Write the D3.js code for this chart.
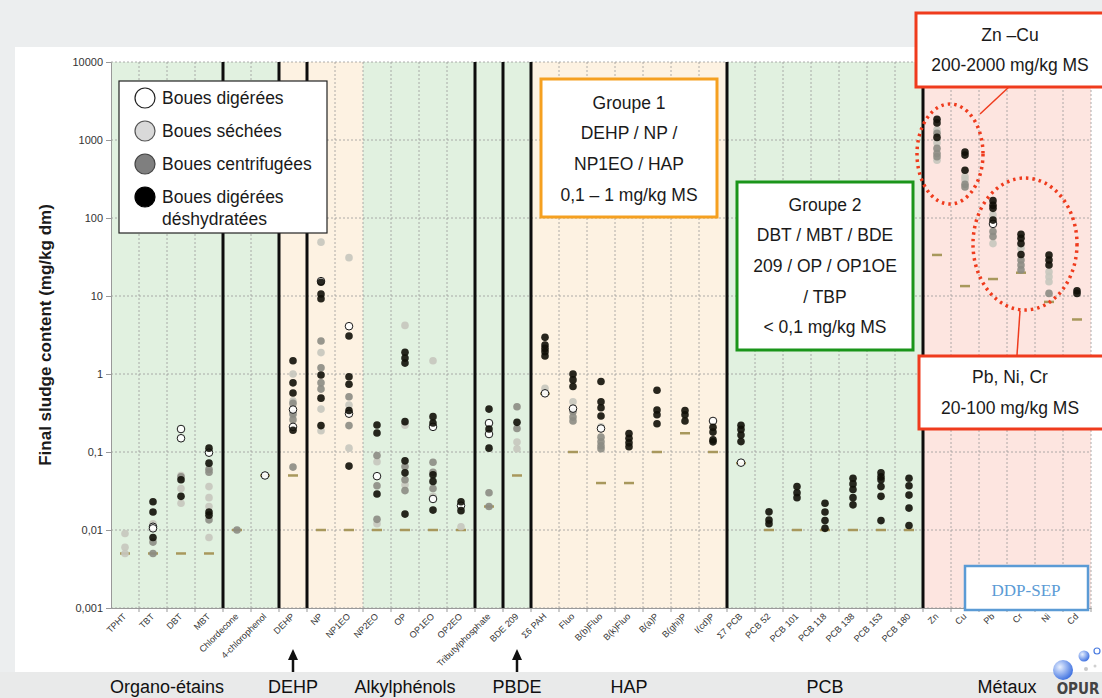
<!DOCTYPE html>
<html lang="fr">
<head>
<meta charset="UTF-8">
<title>Final sludge content</title>
<script src="https://cdn.jsdelivr.net/npm/d3@7"></script>
<style>
  body { margin: 0; background: #eceeef; }
  svg { display: block; font-family: "Liberation Sans", Arial, sans-serif; }
</style>
</head>
<body>
<svg id="chart" width="1102" height="698"></svg>
<script>
// categories (x axis)
var categories = ["TPHT", "TBT", "DBT", "MBT", "Chlordecone", "4-chlorophenol", "DEHP", "NP", "NP1EO", "NP2EO",
  "OP", "OP1EO", "OP2EO", "Tributylphosphate", "BDE 209", "\u03a36 PAH", "Fluo", "B(b)Fluo", "B(k)Fluo", "B(a)P",
  "B(ghi)P", "I(cd)P", "\u03a37 PCB", "PCB 52", "PCB 101", "PCB 118", "PCB 138", "PCB 153", "PCB 180",
  "Zn", "Cu", "Pb", "Cr", "Ni", "Cd"];

// values per category, mg/kg dm (one inner list per category)
var digerees = [[], [0.011, 0.0105], [0.197, 0.15], [0.098], [], [0.05], [0.35, 0.21], [15.5], [4.1, 0.31], [0.049],
  [], [0.21, 0.025], [0.0205], [0.235, 0.17], [], [0.565], [0.36], [0.2], [], [],
  [], [0.25], [0.073], [], [], [], [], [], [],
  [], [], [84], [], [], []];
var sechees = [[0.009, 0.006, 0.005], [0.012], [0.05, 0.034, 0.022], [0.036, 0.026, 0.02, 0.008], [], [], [1.0, 0.45, 0.3], [49, 1.88, 0.355, 0.187], [31, 0.4, 0.112], [0.075, 0.012],
  [4.2, 0.22, 0.038], [1.48, 0.027], [0.011], [], [0.134, 0.11], [0.655], [0.44], [0.21], [], [],
  [], [], [], [], [], [], [], [], [],
  [1350, 920, 550], [340, 310], [110, 47], [41], [20.5, 17.7, 15.2], []];
var centrifugees = [[], [0.007, 0.005], [0.048], [0.06, 0.055, 0.0135], [0.01], [], [0.42, 0.31, 0.26, 0.064], [2.65, 1.2, 0.77, 0.64], [0.51, 0.218], [0.09, 0.037, 0.0137],
  [0.065, 0.044, 0.032], [0.074, 0.055, 0.034], [], [0.03, 0.02], [0.38, 0.2], [], [0.33, 0.28, 0.25], [0.155, 0.135, 0.12, 0.11], [], [],
  [], [], [], [], [], [], [], [], [],
  [1220, 780, 670, 610], [270, 250], [67, 58], [29, 25, 21.6], [10.8], []];
var deshydratees = [[], [0.023, 0.017, 0.008], [0.044, 0.027], [0.112, 0.072, 0.017, 0.0155], [], [], [1.48, 0.77, 0.57, 0.19], [15, 10.6, 9.2, 0.97, 0.49, 0.218], [3.07, 0.92, 0.74, 0.34, 0.066], [0.222, 0.175, 0.029],
  [1.9, 1.6, 1.38, 0.245, 0.077, 0.054, 0.016], [0.284, 0.235, 0.051, 0.042, 0.018], [0.023, 0.0177], [0.355, 0.197, 0.112], [0.24], [2.95, 2.35, 2.13, 1.93, 1.7], [1.0, 0.84, 0.69], [0.8, 0.44, 0.37, 0.29], [0.173, 0.15, 0.131, 0.117], [0.62, 0.345, 0.3, 0.23],
  [0.34, 0.3, 0.25], [0.207, 0.18, 0.143, 0.135], [0.22, 0.195, 0.165, 0.136], [0.0171, 0.0134, 0.012], [0.036, 0.03, 0.026], [0.022, 0.017, 0.0132, 0.0105], [0.046, 0.039, 0.033, 0.026, 0.021], [0.054, 0.048, 0.044, 0.036, 0.027, 0.0132], [0.046, 0.037, 0.028, 0.0191, 0.0114],
  [1840, 1650, 1080], [700, 640, 410], [167, 146, 133, 94], [62, 55, 47, 34], [33.6, 29, 25], [11.7, 10.8]];
// olive dashes (reference level per category)
var niveaux = [0.005, 0.005, 0.005, 0.005, 0.01, 0.05, 0.05, 0.01, 0.01, 0.01,
  0.01, 0.01, 0.01, 0.02, 0.05, 0.56, 0.1, 0.04, 0.04, 0.1,
  0.174, 0.1, 0.072, 0.01, 0.01, 0.01, 0.01, 0.01, 0.01,
  33.6, 13.4, 16.5, 19.9, 8.4, 5.0];

var yTicks = [0.001, 0.01, 0.1, 1, 10, 100, 1000, 10000];
var yTickLabels = ["0,001", "0,01", "0,1", "1", "10", "100", "1000", "10000"];

// thick separators are drawn before these categories
var separators = ["Chlordecone", "DEHP", "NP", "Tributylphosphate", "BDE 209", "\u03a36 PAH", "\u03a37 PCB", "Zn"];
// coloured bands [first, last, colour]
var bands = [["TPHT", "4-chlorophenol", "#e1f1e0"], ["DEHP", "NP1EO", "#fdf2e2"], ["NP2EO", "BDE 209", "#e1f1e0"],
  ["\u03a36 PAH", "I(cd)P", "#fdf2e2"], ["\u03a37 PCB", "PCB 180", "#e1f1e0"], ["Zn", "Cd", "#fde5e0"]];
var groups = [["Organo-\u00e9tains", "TPHT", "MBT"], ["DEHP", "DEHP", "DEHP"], ["Alkylph\u00e9nols", "NP2EO", "OP1EO"],
  ["PBDE", "BDE 209", "BDE 209"], ["HAP", "\u03a36 PAH", "I(cd)P"], ["PCB", "\u03a37 PCB", "PCB 180"], ["M\u00e9taux", "Zn", "Cd"]];

var svg = d3.select("#chart");
var marge = { top: 62, left: 111, right: 1091, bottom: 608 };

var x = d3.scaleBand().domain(categories).range([marge.left, marge.right]);
var y = d3.scaleLog().domain([0.001, 10000]).range([marge.bottom, marge.top]);
var bw = x.bandwidth();
var cx = function (c) { return x(c) + bw / 2; };

// card
svg.append("rect").attr("x", 15).attr("y", 47).attr("width", 1087).attr("height", 625).attr("fill", "#fff");

// bands
svg.append("g").selectAll("rect").data(bands).enter().append("rect")
  .attr("x", function (d) { return x(d[0]); })
  .attr("width", function (d) { return x(d[1]) + bw - x(d[0]); })
  .attr("y", marge.top).attr("height", marge.bottom - marge.top)
  .attr("fill", function (d) { return d[2]; });

// grid
var grid = svg.append("g").attr("stroke", "#9a9a9a").attr("stroke-width", 0.8).attr("stroke-dasharray", "2,2");
grid.selectAll(".h").data(yTicks).enter().append("line")
  .attr("x1", marge.left).attr("x2", marge.right)
  .attr("y1", function (d) { return y(d); }).attr("y2", function (d) { return y(d); });
grid.selectAll(".v").data(categories).enter().append("line")
  .attr("x1", function (d) { return x(d) + bw; }).attr("x2", function (d) { return x(d) + bw; })
  .attr("y1", marge.top).attr("y2", marge.bottom);

// axes
var yAxis = d3.axisLeft(y).tickValues(yTicks).tickSize(5)
  .tickFormat(function (d, i) { return yTickLabels[i]; });
var gy = svg.append("g").attr("transform", "translate(" + marge.left + ",0)").call(yAxis);
gy.select(".domain").attr("stroke", "#999");
gy.selectAll(".tick line").attr("stroke", "#999");
gy.selectAll("text").attr("font-size", 11).attr("fill", "#333").attr("font-family", "Liberation Sans, Arial").attr("x", -8);

var xAxis = d3.axisBottom(x).tickSize(0).tickSizeOuter(0);
var gx = svg.append("g").attr("transform", "translate(0," + marge.bottom + ")").call(xAxis);
gx.select(".domain").attr("stroke", "#999");
gx.selectAll("text")
  .attr("font-size", 9).attr("fill", "#333").attr("font-family", "Liberation Sans, Arial")
  .attr("text-anchor", "end").attr("dy", 0).attr("y", 0)
  .attr("transform", "translate(" + (bw / 2 - 12) + ",9) rotate(-45)");
gx.selectAll(".b").data(categories).enter().append("line")
  .attr("x1", function (d) { return x(d) + bw; }).attr("x2", function (d) { return x(d) + bw; })
  .attr("y1", 0).attr("y2", 4).attr("stroke", "#999");

// thick separators
svg.append("g").selectAll("line").data(separators).enter().append("line")
  .attr("x1", function (d) { return x(d); }).attr("x2", function (d) { return x(d); })
  .attr("y1", marge.top).attr("y2", marge.bottom)
  .attr("stroke", "#0d0d0d").attr("stroke-width", 3);

// reference dashes
svg.append("g").selectAll("line").data(niveaux).enter().append("line")
  .attr("x1", function (d, i) { return cx(categories[i]) - 5; })
  .attr("x2", function (d, i) { return cx(categories[i]) + 5; })
  .attr("y1", function (d) { return y(d); }).attr("y2", function (d) { return y(d); })
  .attr("stroke", "#a8985c").attr("stroke-width", 2.5);

// points
var series = [
  { vals: sechees, fill: "#c6c6be", stroke: "none" },
  { vals: centrifugees, fill: "#8c8c84", stroke: "none" },
  { vals: digerees, fill: "#ffffff", stroke: "#1a1a1a" },
  { vals: deshydratees, fill: "#111008", stroke: "none" }
];
series.forEach(function (s) {
  var pts = [];
  s.vals.forEach(function (list, i) {
    list.forEach(function (v) { pts.push({ c: categories[i], v: v }); });
  });
  svg.append("g").selectAll("circle").data(pts).enter().append("circle")
    .attr("cx", function (d) { return cx(d.c); })
    .attr("cy", function (d) { return y(d.v); })
    .attr("r", 3.8)
    .attr("fill", s.fill).attr("fill-opacity", 0.9)
    .attr("stroke", s.stroke).attr("stroke-width", 1);
});

// y title
svg.append("text")
  .attr("transform", "translate(51,335) rotate(-90)")
  .attr("text-anchor", "middle").attr("font-size", 17).attr("font-weight", "bold").attr("fill", "#1a1a1a")
  .text("Final sludge content (mg/kg dm)");

// legend
var legend = svg.append("g");
legend.append("rect").attr("x", 119).attr("y", 81).attr("width", 208).attr("height", 152)
  .attr("fill", "#fff").attr("stroke", "#222").attr("stroke-width", 1.2);
var legendItems = [
  { lab: ["Boues dig\u00e9r\u00e9es"], fill: "#fff", stroke: "#222", cy: 98 },
  { lab: ["Boues s\u00e9ch\u00e9es"], fill: "#d9d9d9", stroke: "#555", cy: 131 },
  { lab: ["Boues centrifug\u00e9es"], fill: "#7f7f7f", stroke: "#444", cy: 164 },
  { lab: ["Boues dig\u00e9r\u00e9es", "d\u00e9shydrat\u00e9es"], fill: "#000", stroke: "#000", cy: 197 }
];
legendItems.forEach(function (d) {
  legend.append("circle").attr("cx", 145).attr("cy", d.cy).attr("r", 10)
    .attr("fill", d.fill).attr("stroke", d.stroke).attr("stroke-width", 1.2);
  d.lab.forEach(function (t, k) {
    legend.append("text").attr("x", 162).attr("y", d.cy + 6 + k * 22)
      .attr("font-size", 17.5).attr("fill", "#1a1a1a").text(t);
  });
});

// annotation boxes
function box(x0, y0, w, h, col, lines, tx, ty) {
  svg.append("rect").attr("x", x0).attr("y", y0).attr("width", w).attr("height", h)
    .attr("fill", "#fff").attr("stroke", col).attr("stroke-width", 3);
  lines.forEach(function (t, k) {
    svg.append("text").attr("x", tx).attr("y", ty[k])
      .attr("text-anchor", "middle").attr("font-size", 17.5).attr("fill", "#1a1a1a").text(t);
  });
}
box(541, 79, 176, 138, "#f5a020", ["Groupe 1", "DEHP / NP /", "NP1EO / HAP", "0,1 \u2013 1 mg/kg MS"], 629, [109, 139, 170, 201]);
box(737, 182, 176, 168, "#1a951a", ["Groupe 2", "DBT / MBT / BDE", "209 / OP / OP1OE", "/ TBP", "< 0,1 mg/kg MS"], 825, [211, 241, 272, 303, 333]);

// metals: dotted ellipses and call-outs
var red = "#ef3b1d";
svg.append("line").attr("x1", 980).attr("y1", 114).attr("x2", 1010).attr("y2", 86).attr("stroke", red).attr("stroke-width", 1.5);
svg.append("line").attr("x1", 1020).attr("y1", 311).attr("x2", 1017).attr("y2", 355).attr("stroke", red).attr("stroke-width", 1.5);
svg.append("ellipse").attr("cx", cx("Zn") + 13).attr("cy", 154).attr("rx", 33).attr("ry", 50)
  .attr("fill", "none").attr("stroke", red).attr("stroke-width", 3.5).attr("stroke-dasharray", "2.5,4");
svg.append("ellipse").attr("cx", cx("Cr") + 4).attr("cy", 244).attr("rx", 52).attr("ry", 66)
  .attr("fill", "none").attr("stroke", red).attr("stroke-width", 3.5).attr("stroke-dasharray", "2.5,4");
box(916, 13, 200, 74, red, ["Zn \u2013Cu", "200-2000 mg/kg MS"], 1010, [41, 71]);
box(919, 356, 200, 73, red, ["Pb, Ni, Cr", "20-100 mg/kg MS"], 1010, [383, 414]);

// DDP-SEP tag
svg.append("rect").attr("x", 965).attr("y", 566).attr("width", 123).attr("height", 44)
  .attr("fill", "#fff").attr("stroke", "#5b9bd5").attr("stroke-width", 2.5);
svg.append("text").attr("x", 1026).attr("y", 596).attr("text-anchor", "middle")
  .attr("font-family", "Liberation Serif, DejaVu Serif, serif").attr("font-size", 17).attr("fill", "#5b9bd5").text("DDP-SEP");

// bottom band
svg.append("rect").attr("x", 0).attr("y", 672).attr("width", 1102).attr("height", 26).attr("fill", "#e9eaea");

// group labels
svg.append("g").selectAll("text").data(groups).enter().append("text")
  .attr("x", function (d) { return (x(d[1]) + x(d[2]) + bw) / 2; })
  .attr("y", 693).attr("text-anchor", "middle").attr("font-size", 18).attr("fill", "#111")
  .text(function (d) { return d[0]; });

// arrows
["DEHP", "BDE 209"].forEach(function (c) {
  svg.append("line").attr("x1", cx(c)).attr("x2", cx(c)).attr("y1", 672).attr("y2", 657)
    .attr("stroke", "#111").attr("stroke-width", 2.5);
  svg.append("path").attr("d", "M" + (cx(c) - 5) + ",660 L" + cx(c) + ",649 L" + (cx(c) + 5) + ",660 Z").attr("fill", "#111");
});

// OPUR logo
var defs = svg.append("defs");
var rg = defs.append("radialGradient").attr("id", "ball").attr("cx", "35%").attr("cy", "35%").attr("r", "70%");
rg.append("stop").attr("offset", "0%").attr("stop-color", "#e8f0ff");
rg.append("stop").attr("offset", "100%").attr("stop-color", "#3b6fe0");
svg.append("circle").attr("cx", 1063).attr("cy", 670).attr("r", 10).attr("fill", "url(#ball)");
svg.append("circle").attr("cx", 1084).attr("cy", 656).attr("r", 5.5).attr("fill", "url(#ball)");
svg.append("circle").attr("cx", 1097).attr("cy", 651).attr("r", 3).attr("fill", "#fff").attr("stroke", "#4a7be0").attr("stroke-width", 1.2);
svg.append("circle").attr("cx", 1086).attr("cy", 669).attr("r", 2).attr("fill", "#c8c8c8");
svg.append("circle").attr("cx", 1095).attr("cy", 666).attr("r", 1.5).attr("fill", "#d0d0d0");
svg.append("text").attr("x", 1078).attr("y", 694).attr("text-anchor", "middle")
  .attr("font-family", "Liberation Sans Narrow, DejaVu Sans Condensed, sans-serif").attr("font-weight", "bold")
  .attr("font-size", 15).attr("fill", "#444").text("OPUR");
</script>
</body>
</html>
